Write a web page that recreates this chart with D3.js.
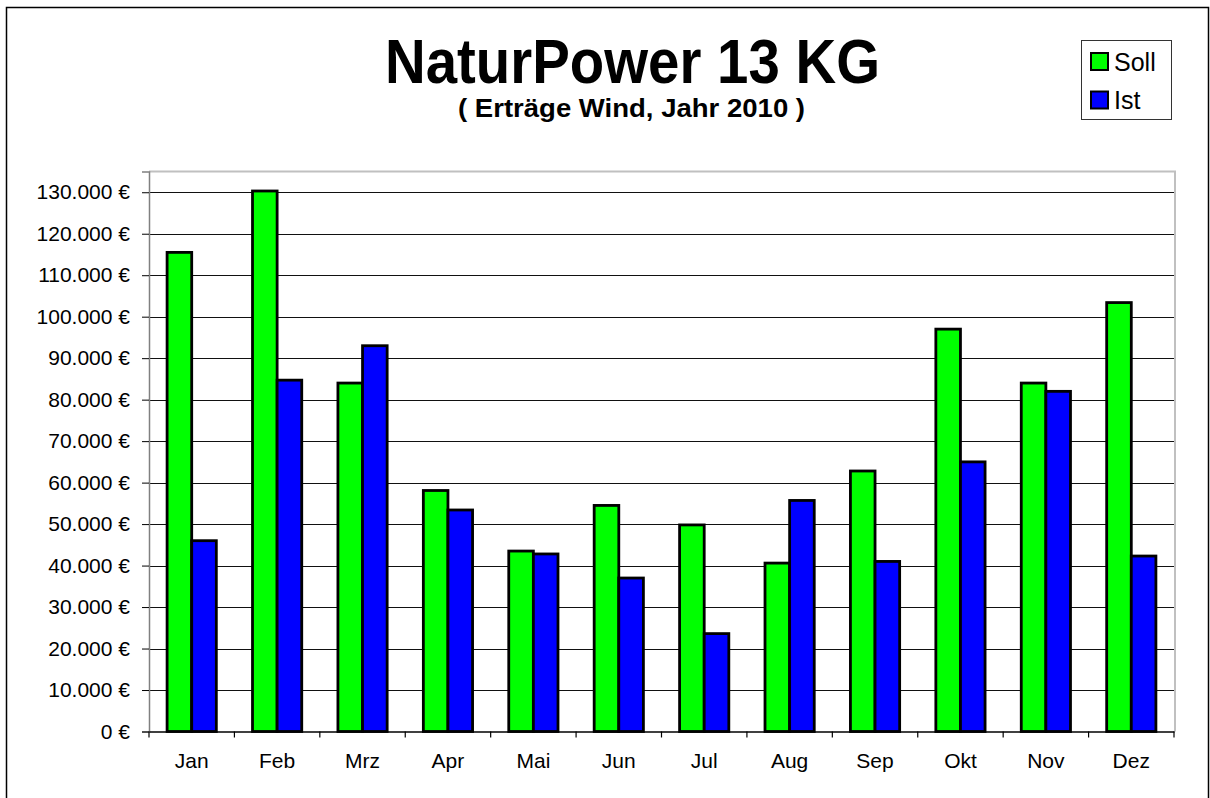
<!DOCTYPE html>
<html>
<head>
<meta charset="utf-8">
<script src="https://cdn.jsdelivr.net/npm/d3@7"></script>
<style>
  html, body { margin: 0; padding: 0; background: #fff; }
  svg { display: block; font-family: "Liberation Sans", Arial, sans-serif; }
</style>
</head>
<body>
<svg id="chart" width="1210" height="798"></svg>
<script>
// Monatswerte 2010
const months = ['Jan', 'Feb', 'Mrz', 'Apr', 'Mai', 'Jun', 'Jul', 'Aug', 'Sep', 'Okt', 'Nov', 'Dez'];
const seriesNames = ['Soll', 'Ist'];
const soll = [115500, 130300, 84000, 58100, 43500, 54500, 49800, 40600, 62800, 97000, 84000, 103400];
const ist = [46000, 84700, 93000, 53400, 42800, 37000, 23600, 55700, 41000, 65000, 82000, 42300];
const yTicks = [0, 10000, 20000, 30000, 40000, 50000, 60000, 70000, 80000, 90000, 100000, 110000, 120000, 130000];

const colors = { Soll: '#00ff00', Ist: '#0000ff' };

const de = d3.formatLocale({ decimal: ',', thousands: '.', grouping: [3], currency: ['', ' €'] });
const fmtEuro = v => `${de.format(',')(v)} €`;

const svg = d3.select('#chart');

const plot = { left: 149, right: 1174, top: 171.5, bottom: 731.5 };

const x = d3.scaleBand().domain(months).range([plot.left, plot.right]).padding(0);
const xs = d3.scaleBand().domain(seriesNames).range([0, x.bandwidth()])
  .paddingInner(0).paddingOuter(0.735);
const y = d3.scaleLinear().domain([0, 135000]).range([plot.bottom, plot.top]);

// outer frame
svg.append('rect')
  .attr('x', 6.5).attr('y', 7.5).attr('width', 1202).attr('height', 810)
  .attr('fill', '#fff').attr('stroke', '#000').attr('stroke-width', 1.5);

// title
svg.append('text')
  .attr('x', 632.5).attr('y', 83)
  .attr('text-anchor', 'middle')
  .attr('font-size', 63).attr('font-weight', 'bold')
  .attr('textLength', 495).attr('lengthAdjust', 'spacingAndGlyphs')
  .text('NaturPower 13 KG');

svg.append('text')
  .attr('x', 631.5).attr('y', 117)
  .attr('text-anchor', 'middle')
  .attr('font-size', 25.5).attr('font-weight', 'bold')
  .attr('textLength', 347).attr('lengthAdjust', 'spacingAndGlyphs')
  .text('( Erträge Wind, Jahr 2010 )');

// plot area frame (light gray top/right)
svg.append('path')
  .attr('d', `M${plot.left},${plot.top}H${plot.right + 1}V${plot.bottom}`)
  .attr('fill', 'none').attr('stroke', '#c0c0c0').attr('stroke-width', 2);

// gridlines
svg.append('g')
  .selectAll('line')
  .data(yTicks.filter(d => d > 0))
  .join('line')
  .attr('x1', plot.left).attr('x2', plot.right)
  .attr('y1', d => Math.round(y(d)) + 0.5).attr('y2', d => Math.round(y(d)) + 0.5)
  .attr('stroke', '#111').attr('stroke-width', 1.2);

// y axis
const yAxis = svg.append('g')
  .attr('transform', `translate(${plot.left},0)`)
  .call(d3.axisLeft(y).tickValues(yTicks).tickFormat(fmtEuro).tickSize(7).tickPadding(12));
yAxis.select('.domain').attr('stroke', '#808080').attr('stroke-width', 1.5);
yAxis.selectAll('.tick line').attr('stroke', '#000');
yAxis.selectAll('.tick text')
  .attr('font-size', 21).attr('fill', '#000')
  .attr('font-family', '"Liberation Sans", Arial, sans-serif');

// bars
const groups = svg.append('g')
  .selectAll('g')
  .data(months.map((m, i) => ({ month: m, values: [{ key: 'Soll', v: soll[i] }, { key: 'Ist', v: ist[i] }] })))
  .join('g')
  .attr('transform', d => `translate(${x(d.month)},0)`);

groups.selectAll('rect')
  .data(d => d.values)
  .join('rect')
  .attr('x', d => xs(d.key))
  .attr('y', d => y(d.v))
  .attr('width', xs.bandwidth())
  .attr('height', d => y(0) - y(d.v))
  .attr('fill', d => colors[d.key])
  .attr('stroke', '#000')
  .attr('stroke-width', 2.8);

// x axis
const xAxis = svg.append('g')
  .attr('transform', `translate(0,${plot.bottom})`)
  .call(d3.axisBottom(x).tickSize(0).tickPadding(22));
xAxis.select('.domain').attr('stroke', '#000').attr('stroke-width', 1.5);
xAxis.selectAll('.tick text')
  .attr('font-size', 21).attr('fill', '#000')
  .attr('font-family', '"Liberation Sans", Arial, sans-serif');

// category boundary ticks
svg.append('g')
  .selectAll('line')
  .data([...months.map(m => x(m)), x.range()[1]])
  .join('line')
  .attr('x1', d => d).attr('x2', d => d)
  .attr('y1', plot.bottom).attr('y2', plot.bottom + 6)
  .attr('stroke', '#000').attr('stroke-width', 1.2);

// legend
const legend = svg.append('g');
legend.append('rect')
  .attr('x', 1081.5).attr('y', 40.5).attr('width', 90).attr('height', 79)
  .attr('fill', '#fff').attr('stroke', '#333').attr('stroke-width', 1);
const items = legend.selectAll('g.item')
  .data(seriesNames)
  .join('g')
  .attr('class', 'item')
  .attr('transform', (d, i) => `translate(1091,${53 + i * 38.5})`);
items.append('rect')
  .attr('width', 17).attr('height', 17)
  .attr('fill', d => colors[d]).attr('stroke', '#000').attr('stroke-width', 2);
items.append('text')
  .attr('x', 23).attr('y', 17.5)
  .attr('font-size', 25)
  .text(d => d);
</script>
</body>
</html>
